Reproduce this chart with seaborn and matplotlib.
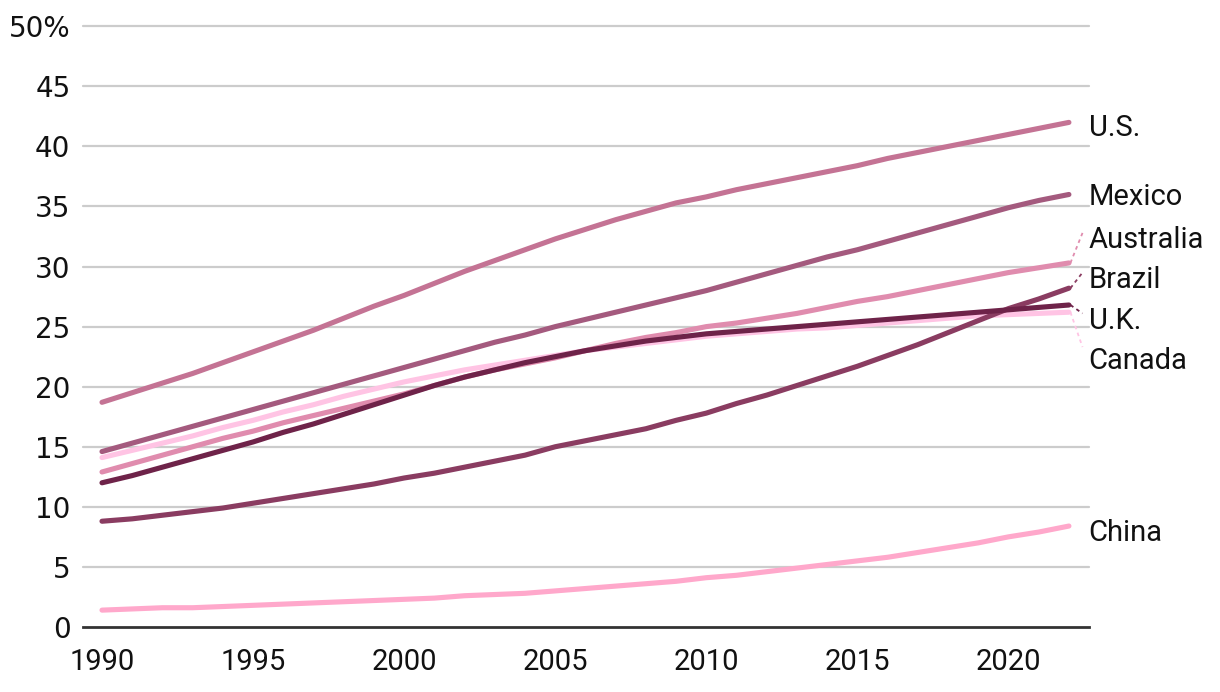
import numpy as np
import pandas as pd
import seaborn as sns
import matplotlib
matplotlib.use('Agg')
import matplotlib.pyplot as plt

years = list(range(1990, 2023))

us = [18.7, 19.5, 20.3, 21.1, 22.0, 22.9, 23.8, 24.7, 25.7, 26.7, 27.6, 28.6, 29.6, 30.5, 31.4,
      32.3, 33.1, 33.9, 34.6, 35.3, 35.8, 36.4, 36.9, 37.4, 37.9, 38.4, 39.0, 39.5, 40.0, 40.5,
      41.0, 41.5, 42.0]
mexico = [14.6, 15.3, 16.0, 16.7, 17.4, 18.1, 18.8, 19.5, 20.2, 20.9, 21.6, 22.3, 23.0, 23.7, 24.3,
          25.0, 25.6, 26.2, 26.8, 27.4, 28.0, 28.7, 29.4, 30.1, 30.8, 31.4, 32.1, 32.8, 33.5, 34.2,
          34.9, 35.5, 36.0]
australia = [12.9, 13.6, 14.3, 15.0, 15.7, 16.3, 17.0, 17.6, 18.2, 18.8, 19.4, 20.1, 20.8, 21.4, 21.9,
             22.4, 23.0, 23.6, 24.1, 24.5, 25.0, 25.3, 25.7, 26.1, 26.6, 27.1, 27.5, 28.0, 28.5, 29.0,
             29.5, 29.9, 30.3]
brazil = [8.8, 9.0, 9.3, 9.6, 9.9, 10.3, 10.7, 11.1, 11.5, 11.9, 12.4, 12.8, 13.3, 13.8, 14.3,
          15.0, 15.5, 16.0, 16.5, 17.2, 17.8, 18.6, 19.3, 20.1, 20.9, 21.7, 22.6, 23.5, 24.5, 25.5,
          26.5, 27.3, 28.2]
uk = [12.0, 12.6, 13.3, 14.0, 14.7, 15.4, 16.2, 16.9, 17.7, 18.5, 19.3, 20.1, 20.8, 21.4, 22.0,
      22.5, 23.0, 23.4, 23.8, 24.1, 24.4, 24.6, 24.8, 25.0, 25.2, 25.4, 25.6, 25.8, 26.0, 26.2,
      26.4, 26.6, 26.8]
canada = [14.1, 14.7, 15.3, 15.9, 16.6, 17.2, 17.9, 18.5, 19.2, 19.8, 20.4, 20.9, 21.4, 21.8, 22.2,
          22.6, 23.0, 23.3, 23.6, 23.9, 24.2, 24.4, 24.6, 24.8, 24.9, 25.1, 25.3, 25.5, 25.7, 25.9,
          26.0, 26.1, 26.2]
china = [1.4, 1.5, 1.6, 1.6, 1.7, 1.8, 1.9, 2.0, 2.1, 2.2, 2.3, 2.4, 2.6, 2.7, 2.8,
         3.0, 3.2, 3.4, 3.6, 3.8, 4.1, 4.3, 4.6, 4.9, 5.2, 5.5, 5.8, 6.2, 6.6, 7.0,
         7.5, 7.9, 8.4]

# draw order: bottom first
countries = ['China', 'Canada', 'Australia', 'Brazil', 'U.K.', 'Mexico', 'U.S.']
series = [china, canada, australia, brazil, uk, mexico, us]
colors = {'China': '#ffa8cb', 'Canada': '#ffc4e4', 'Australia': '#e08cae', 'Brazil': '#8a3c61',
          'U.K.': '#6e2349', 'Mexico': '#a45a7e', 'U.S.': '#c47394'}

# where the end labels sit (in data units)
label_y = {'U.S.': 41.5, 'Mexico': 35.8, 'Australia': 32.2, 'Brazil': 28.9,
           'U.K.': 25.5, 'Canada': 22.1, 'China': 7.8}

df = pd.DataFrame({
    'year': years * len(countries),
    'country': [c for c in countries for _ in years],
    'share': [v for s in series for v in s],
})

sns.set_style('white')
fig = plt.figure(figsize=(12.2, 6.92), dpi=100)
ax = fig.add_axes([0.068, 0.094, 0.825, 0.868])

for y in range(5, 55, 5):
    ax.axhline(y, color='#cccccc', lw=1.6, zorder=0, clip_on=False)

for c in countries:
    sns.lineplot(data=df[df.country == c], x='year', y='share', color=colors[c], lw=3.7,
                 ax=ax, legend=False, solid_capstyle='round')

ax.set_xlim(1989.37, 2022.68)
ax.set_ylim(0, 50)
ax.set_xticks(range(1990, 2021, 5))
ax.set_yticks(range(0, 55, 5))
ax.set_yticklabels([str(v) if v < 50 else '50%' for v in range(0, 55, 5)],
                   family='DejaVu Sans', fontsize=20, color='#111111')
ax.set_xticklabels([str(v) for v in range(1990, 2021, 5)], family='Roboto', fontsize=21,
                   color='#111111')
ax.tick_params(axis='y', length=0, pad=9)
ax.tick_params(axis='x', length=8, width=2, color='#333333', pad=7, direction='out')
for s in ['top', 'right', 'left']:
    ax.spines[s].set_visible(False)
ax.spines['bottom'].set_color('#333333')
ax.spines['bottom'].set_linewidth(2)
ax.set_xlabel('')
ax.set_ylabel('')

lx = 2022.65
last = dict(zip(countries, [s[-1] for s in series]))
for c in countries:
    ax.text(lx, label_y[c], c, family='Roboto', fontsize=21, va='center', ha='left',
            clip_on=False, color='#111111')
    if c in ['Australia', 'Brazil', 'U.K.', 'Canada']:
        ax.plot([2022.05, 2022.45], [last[c], label_y[c] + (0.6 if c != 'Canada' else 1.2)],
                color=colors[c], lw=1.3, ls=(0, (2, 2)), clip_on=False)

fig.savefig('out.png', dpi=100)
